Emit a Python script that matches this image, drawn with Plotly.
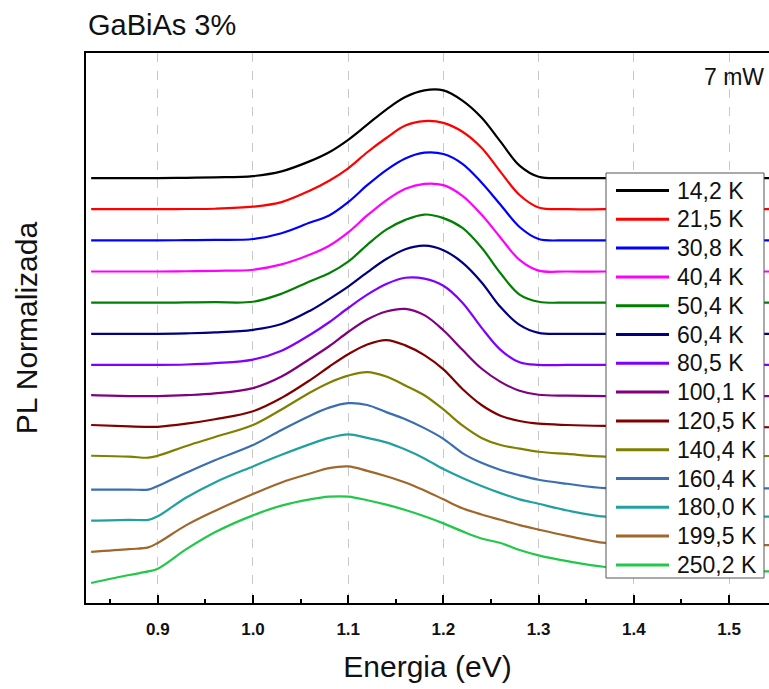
import plotly.graph_objects as go

# Photon energy grid (eV) shared by all spectra
energy = [0.83, 0.87, 0.89, 0.90, 0.93, 0.96, 1.00, 1.03, 1.06, 1.08, 1.10, 1.12, 1.14,
          1.16, 1.18, 1.20, 1.22, 1.24, 1.26, 1.28, 1.30, 1.33, 1.37, 1.42, 1.48, 1.545]

# Sample temperatures (legend labels)
temperatures = ["14,2 K", "21,5 K", "30,8 K", "40,4 K", "50,4 K", "60,4 K", "80,5 K",
                "100,1 K", "120,5 K", "140,4 K", "160,4 K", "180,0 K", "199,5 K", "250,2 K"]

# Normalized PL intensity for each temperature
pl_14_2 = [0, 0, 0, 0, 0.003, 0.008, 0.022, 0.075, 0.19, 0.29, 0.43, 0.60, 0.77,
           0.91, 0.985, 0.985, 0.87, 0.68, 0.41, 0.14, 0.015, 0, 0, 0, 0, 0]
pl_21_5 = [0, 0, 0, 0, 0.002, 0.005, 0.028, 0.08, 0.21, 0.32, 0.46, 0.64, 0.80,
           0.94, 0.99, 0.97, 0.87, 0.69, 0.42, 0.16, 0.02, 0, 0, 0, 0, 0]
pl_30_8 = [0, 0, 0, 0, 0.002, 0.005, 0.015, 0.08, 0.20, 0.28, 0.43, 0.62, 0.79,
           0.92, 0.985, 0.97, 0.86, 0.65, 0.40, 0.15, 0.015, 0, 0, 0, 0, 0]
pl_40_4 = [0, 0, 0, 0, 0.003, 0.008, 0.02, 0.08, 0.19, 0.29, 0.44, 0.63, 0.80,
           0.93, 0.985, 0.97, 0.85, 0.64, 0.38, 0.13, 0.01, 0, 0, 0, 0, 0]
pl_50_4 = [0, 0, 0, 0, 0.002, 0.005, 0.01, 0.10, 0.24, 0.33, 0.46, 0.65, 0.82,
           0.93, 0.99, 0.95, 0.84, 0.62, 0.33, 0.09, 0.01, 0, 0, 0, 0, 0]
pl_60_4 = [0, 0, 0, 0, 0.005, 0.015, 0.045, 0.11, 0.26, 0.39, 0.53, 0.69, 0.84,
           0.95, 0.99, 0.94, 0.80, 0.58, 0.30, 0.10, 0.01, 0, 0, 0, 0, 0]
pl_80_5 = [0, 0, 0, 0, 0.005, 0.02, 0.06, 0.16, 0.34, 0.48, 0.64, 0.79, 0.91,
           0.98, 0.97, 0.89, 0.70, 0.42, 0.17, 0.03, 0.0, 0, 0, 0, 0, 0]
pl_100_1 = [0.01, 0.0, 0.0, 0.0, 0.01, 0.03, 0.09, 0.22, 0.42, 0.56, 0.72, 0.86, 0.95,
            0.98, 0.91, 0.74, 0.52, 0.31, 0.16, 0.06, 0.015, 0.005, 0, 0, 0, 0]
pl_120_5 = [0.025, 0.01, 0.005, 0.005, 0.04, 0.09, 0.18, 0.33, 0.53, 0.68, 0.82, 0.93, 0.98,
            0.92, 0.81, 0.65, 0.43, 0.25, 0.13, 0.07, 0.04, 0.025, 0.015, 0.01, 0.005, 0.0]
pl_140_4 = [0.03, 0.02, 0.008, 0.03, 0.14, 0.24, 0.375, 0.55, 0.74, 0.85, 0.93, 0.97, 0.92,
            0.82, 0.71, 0.55, 0.37, 0.23, 0.15, 0.11, 0.075, 0.05, 0.02, 0.02, 0.025, 0.027]
pl_160_4 = [0.0, 0.0, 0.0, 0.04, 0.19, 0.33, 0.50, 0.67, 0.83, 0.92, 0.97, 0.95, 0.87,
            0.79, 0.69, 0.57, 0.41, 0.30, 0.22, 0.16, 0.11, 0.065, 0.015, 0.01, 0.013, 0.013]
pl_180_0 = [0.0, 0.01, 0.01, 0.05, 0.26, 0.43, 0.61, 0.74, 0.86, 0.93, 0.97, 0.93, 0.88,
            0.80, 0.70, 0.58, 0.48, 0.39, 0.31, 0.24, 0.19, 0.115, 0.045, 0.045, 0.045, 0.045]
pl_199_5 = [0.0, 0.03, 0.05, 0.10, 0.30, 0.46, 0.65, 0.78, 0.88, 0.94, 0.96, 0.91, 0.85,
            0.78, 0.69, 0.59, 0.49, 0.42, 0.36, 0.30, 0.25, 0.18, 0.10, 0.09, 0.08, 0.075]
pl_250_2 = [0.0, 0.09, 0.13, 0.16, 0.38, 0.57, 0.76, 0.87, 0.94, 0.97, 0.97, 0.93, 0.88,
            0.82, 0.75, 0.67, 0.58, 0.50, 0.45, 0.37, 0.31, 0.245, 0.18, 0.16, 0.14, 0.13]

spectra = [pl_14_2, pl_21_5, pl_30_8, pl_40_4, pl_50_4, pl_60_4, pl_80_5,
           pl_100_1, pl_120_5, pl_140_4, pl_160_4, pl_180_0, pl_199_5, pl_250_2]

colors = ["#000000", "#ff0000", "#0000ff", "#ff00ff", "#008000", "#000080", "#8000ff",
          "#800080", "#800000", "#808000", "#3a6eb0", "#22a0a0", "#a0672b", "#22c84a"]

# Vertical shift between consecutive spectra (normalized units)
step = 0.35

W, H = 769, 689
ML, MR, MT, MB = 86, 0, 53, 86
PW, PH = W - ML - MR, H - MT - MB


def px_x(px):
    return (px - ML) / PW


def px_y(py):
    return (MT + PH - py) / PH


FONT = "Liberation Sans, Arial, sans-serif"
n = len(spectra)

fig = go.Figure()
for i, (label, vals, col) in enumerate(zip(temperatures, spectra, colors)):
    shift = (n - 1 - i) * step
    fig.add_trace(go.Scatter(
        x=energy, y=[v + shift for v in vals], mode="lines", name=label,
        line=dict(color=col, width=2.2, shape="spline", smoothing=1.0),
        showlegend=False, hoverinfo="skip",
    ))

# Legend panel
shapes = [dict(type="rect", xref="paper", yref="paper",
               x0=px_x(606), x1=px_x(764), y0=px_y(578), y1=px_y(173),
               fillcolor="white", line=dict(color="#555555", width=1), layer="above")]
annotations = []
for i, (label, col) in enumerate(zip(temperatures, colors)):
    yc = 190.5 + 28.8 * i
    shapes.append(dict(type="line", xref="paper", yref="paper",
                       x0=px_x(616), x1=px_x(669), y0=px_y(yc), y1=px_y(yc),
                       line=dict(color=col, width=3), layer="above"))
    annotations.append(dict(xref="paper", yref="paper", x=px_x(675), y=px_y(yc),
                            xanchor="left", yanchor="middle", text=label, showarrow=False,
                            font=dict(family=FONT, size=23, color="#111111")))

annotations.append(dict(xref="paper", yref="paper", x=px_x(766), y=px_y(77),
                        xanchor="right", yanchor="middle", text="7 mW", showarrow=False,
                        font=dict(family=FONT, size=23, color="#111111")))

fig.update_layout(
    width=W, height=H,
    margin=dict(l=ML, r=MR, t=MT, b=MB),
    paper_bgcolor="white", plot_bgcolor="white",
    title=dict(text="GaBiAs 3%", x=88 / W, xanchor="left", xref="container",
               y=1 - 25 / H, yanchor="middle",
               font=dict(family=FONT, size=29, color="#111111")),
    shapes=shapes, annotations=annotations,
    xaxis=dict(
        range=[0.8246, 1.542], showline=True, linecolor="black", linewidth=2, mirror=True,
        ticks="inside", ticklen=8, tickwidth=2, tickcolor="black",
        tick0=0.9, dtick=0.1, tickformat=".1f", ticklabelstandoff=10,
        tickfont=dict(family=FONT, size=17, color="#111111", weight="bold"),
        showgrid=True, gridcolor="#c8c8c8", griddash="dash", gridwidth=1,
        minor=dict(ticks="inside", ticklen=4, tickwidth=2, tickcolor="black",
                   dtick=0.05, showgrid=False),
        zeroline=False,
        title=dict(text="Energia (eV)", standoff=18,
                   font=dict(family=FONT, size=30, color="#111111")),
    ),
    yaxis=dict(
        range=[-0.2247, 5.955], showline=True, linecolor="black", linewidth=2,
        ticks="", showticklabels=False, showgrid=False, zeroline=False,
        title=dict(text="PL Normalizada", standoff=38,
                   font=dict(family=FONT, size=30, color="#111111")),
    ),
)

fig.write_html("out.html")
